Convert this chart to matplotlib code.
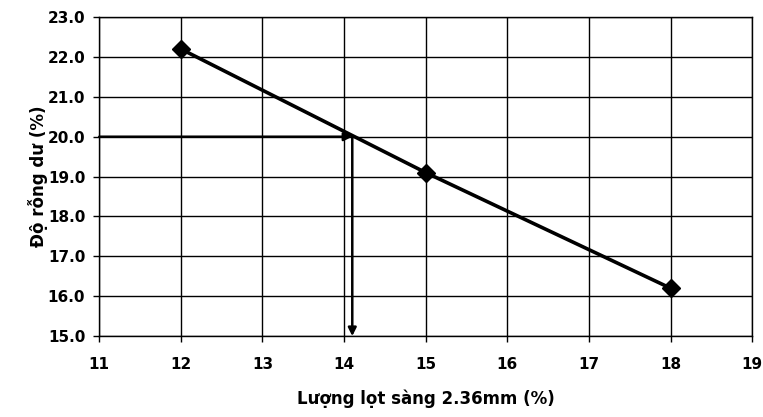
import matplotlib.pyplot as plt

# data
x = [12, 15, 18]
y = [22.2, 19.1, 16.2]
x_read = 14.1
y_target = 20.0

plt.rcParams['font.family'] = ['DejaVu Sans']
plt.rcParams['font.weight'] = 'bold'

fig = plt.figure(figsize=(7.63, 4.17), dpi=100)
ax = fig.add_axes([0.130, 0.194, 0.856, 0.765])

ax.plot(x, y, color='black', lw=2.6, marker='D', markersize=9, zorder=4)

# reading arrows
ax.annotate('', xy=(x_read, y_target), xytext=(11, y_target),
            arrowprops=dict(arrowstyle='-|>', color='black', lw=1.8,
                            mutation_scale=12, shrinkA=0, shrinkB=0), zorder=3)
ax.annotate('', xy=(x_read, 15.0), xytext=(x_read, y_target),
            arrowprops=dict(arrowstyle='-|>', color='black', lw=1.8,
                            mutation_scale=12, shrinkA=0, shrinkB=0), zorder=3)

ax.set_xlim(11, 19)
ax.set_ylim(15, 23)
ax.set_xticks(range(11, 20))
ax.set_yticks(range(15, 24))
ax.set_yticklabels([f"{v:.1f}" for v in range(15, 24)])
ax.grid(True, color='black', lw=1.0)
ax.set_axisbelow(True)
for s in ax.spines.values():
    s.set_color('black')
    s.set_linewidth(1.0)
ax.tick_params(direction='out', length=4, width=1, labelsize=11)
ax.tick_params(axis='x', pad=11)
ax.tick_params(axis='y', pad=6)
for lab in ax.get_xticklabels() + ax.get_yticklabels():
    lab.set_fontweight('bold')

ax.set_xlabel("Lượng lọt sàng 2.36mm (%)", fontsize=12, fontweight='bold', labelpad=13)
ax.set_ylabel("Độ rỗng dư (%)", fontsize=12, fontweight='bold', labelpad=0)

fig.savefig('out.png', dpi=100)
